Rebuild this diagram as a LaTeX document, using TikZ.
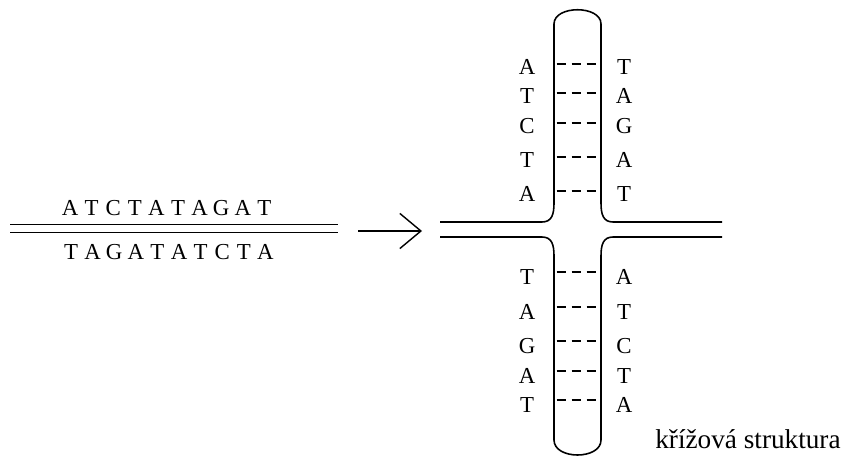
\documentclass[tikz,border=0pt]{standalone}
\usepackage{fontspec}
\setmainfont{Liberation Serif}
\usetikzlibrary{arrows.meta}

\begin{document}
\begin{tikzpicture}[
        x=0.02cm, y=-0.02cm,
        base/.style={font=\fontsize{13}{15}\selectfont, inner sep=0pt},
        caption/.style={font=\fontsize{15.5}{18}\selectfont, inner sep=0pt, anchor=base west},
        strand/.style={line width=0.9pt},
        bond/.style={line width=0.9pt, dash pattern=on 5.5pt off 3pt, dash phase=7pt},
        reaction/.style={line width=0.8pt, -{Straight Barb[length=12pt, width=20pt]}}
    ]
    \useasboundingbox (0,0) rectangle (848,456);

    % linear duplex
    \coordinate (dtl) at (10,224.5);
    \coordinate (dtr) at (338,224.5);
    \coordinate (dbl) at (10,232.5);
    \coordinate (dbr) at (338,232.5);
    \draw[strand] (dtl) -- (dtr);
    \draw[strand] (dbl) -- (dbr);
    \foreach \l [count=\i] in {A,T,C,T,A,T,A,G,A,T} {
        \node[base] (a\i) at ({70+21.6*(\i-1)},208) {\l};
    }
    \foreach \l [count=\i] in {T,A,G,A,T,A,T,C,T,A} {
        \node[base] (b\i) at ({71+21.6*(\i-1)},252) {\l};
    }

    % arrow
    \coordinate (arrs) at (358,231);
    \coordinate (arre) at (422,231);
    \draw[reaction] (arrs) -- (arre);

    % cruciform
    \draw[strand] (440,222) -- (542,222) .. controls (552,222) and (554,214) .. (554,203)
        -- (554,24) .. controls (554,5) and (601,5) .. (601,24)
        -- (601,203) .. controls (601,214) and (603,222) .. (613,222) -- (722,222);
    \draw[strand] (440,237) -- (542,237) .. controls (552,237) and (554,245) .. (554,256)
        -- (554,440) .. controls (554,460) and (601,460) .. (601,440)
        -- (601,256) .. controls (601,245) and (603,237) .. (613,237) -- (722,237);

    \foreach \i/\y/\l/\r in {1/64/A/T, 2/93/T/A, 3/123/C/G, 4/157/T/A, 5/191/A/T} {
        \coordinate (ul\i) at (554,\y);
        \coordinate (ur\i) at (601,\y);
        \draw[bond] (ul\i) -- (ur\i);
        \node[base] (ua\i) at (527,\y+3) {\l};
        \node[base] (ub\i) at (624,\y+3) {\r};
    }
    \foreach \i/\y/\l/\r in {1/272/T/A, 2/307/A/T, 3/341/G/C, 4/371/A/T, 5/400/T/A} {
        \coordinate (ll\i) at (554,\y);
        \coordinate (lr\i) at (601,\y);
        \draw[bond] (ll\i) -- (lr\i);
        \node[base] (la\i) at (527,\y+5) {\l};
        \node[base] (lb\i) at (624,\y+5) {\r};
    }

    \node[caption] (name) at (655,448) {křížová struktura};

\end{tikzpicture}
\end{document}
